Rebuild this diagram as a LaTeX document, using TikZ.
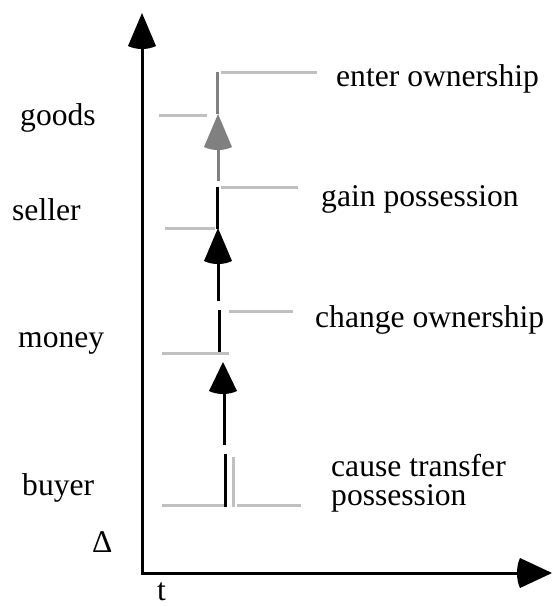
\documentclass[tikz,border=0pt]{standalone}
\usepackage{fontspec}
\setmainfont{Liberation Serif}
\usetikzlibrary{arrows.meta}
\definecolor{lgray}{RGB}{192,192,192}
\definecolor{dgray}{RGB}{128,128,128}
\begin{document}
\begin{tikzpicture}[x=1pt,y=-1pt,
  lab/.style={inner sep=0pt,anchor=base west,font=\fontsize{31.6}{36}\selectfont},
  axisline/.style={line width=3pt,black},
  blk/.style={line width=3pt,black},
  gry/.style={line width=3pt,lgray},
  dgry/.style={line width=3pt,dgray}]
\useasboundingbox (0,0) rectangle (552,607);
% axes
\coordinate (o) at (142,573);
\coordinate (ytop) at (142,45);
\coordinate (xend) at (522,573);
\draw[axisline] (142,574.5) -- (ytop);
\draw[axisline] (o) -- (xend);
\fill (142,13) -- (128,46) .. controls (136,50) and (148,50) .. (156,46) -- cycle;
\fill (552,573) -- (520,558) .. controls (516,566) and (516,580) .. (520,588) -- cycle;
% labels left
\node[lab] (goods) at (20,125) {goods};
\node[lab] (seller) at (12,220) {seller};
\node[lab] (money) at (18,347) {money};
\node[lab] (buyer) at (22,495) {buyer};
\node[lab] (delta) at (92,552) {Δ};
\node[lab] (t) at (157,600) {t};
% labels right
\node[lab] (e4) at (336,87) {enter ownership};
\node[lab] (e3) at (321,206) {gain possession};
\node[lab] (e2) at (315,327) {change ownership};
\node[lab] (e1a) at (331,476) {cause transfer};
\node[lab] (e1b) at (331,505) {possession};
% event 4: enter ownership (gray)
\coordinate (a4t) at (217,72);
\coordinate (a4b) at (217,114);
\draw[dgry] (a4t) -- (a4b);
\draw[gry] (221,73) -- (317,73);
\draw[gry] (159,116) -- (207,116);
\coordinate (g4s) at (218,181);
\coordinate (g4e) at (218,146);
\draw[dgry] (g4s) -- (g4e);
\fill[dgray] (218,114) -- (204,147) .. controls (212,151) and (224,151) .. (232,147) -- cycle;
% event 3: gain possession
\draw[blk] (217,187) -- (217,229);
\draw[gry] (221,187) -- (298,187);
\draw[gry] (165,228) -- (215,228);
\coordinate (g3s) at (218,301);
\coordinate (g3e) at (218,259);
\draw[blk] (g3s) -- (g3e);
\fill (218,228) -- (204,261) .. controls (212,265) and (224,265) .. (232,261) -- cycle;
% event 2: change ownership
\draw[blk] (219,310) -- (219,354);
\draw[gry] (229,311) -- (293,311);
\draw[gry] (162,353) -- (229,353);
\coordinate (g2s) at (224,445);
\coordinate (g2e) at (224,390);
\draw[blk] (g2s) -- (g2e);
\fill (223,362) -- (209,391) .. controls (217,395) and (229,395) .. (237,391) -- cycle;
% event 1: cause transfer possession
\draw[gry] (162,505) -- (225,505);
\draw[gry] (237,505) -- (301,505);
\draw[gry] (233,457) -- (233,506.5);
\draw[blk] (225,454) -- (225,506.5);
\end{tikzpicture}
\end{document}
